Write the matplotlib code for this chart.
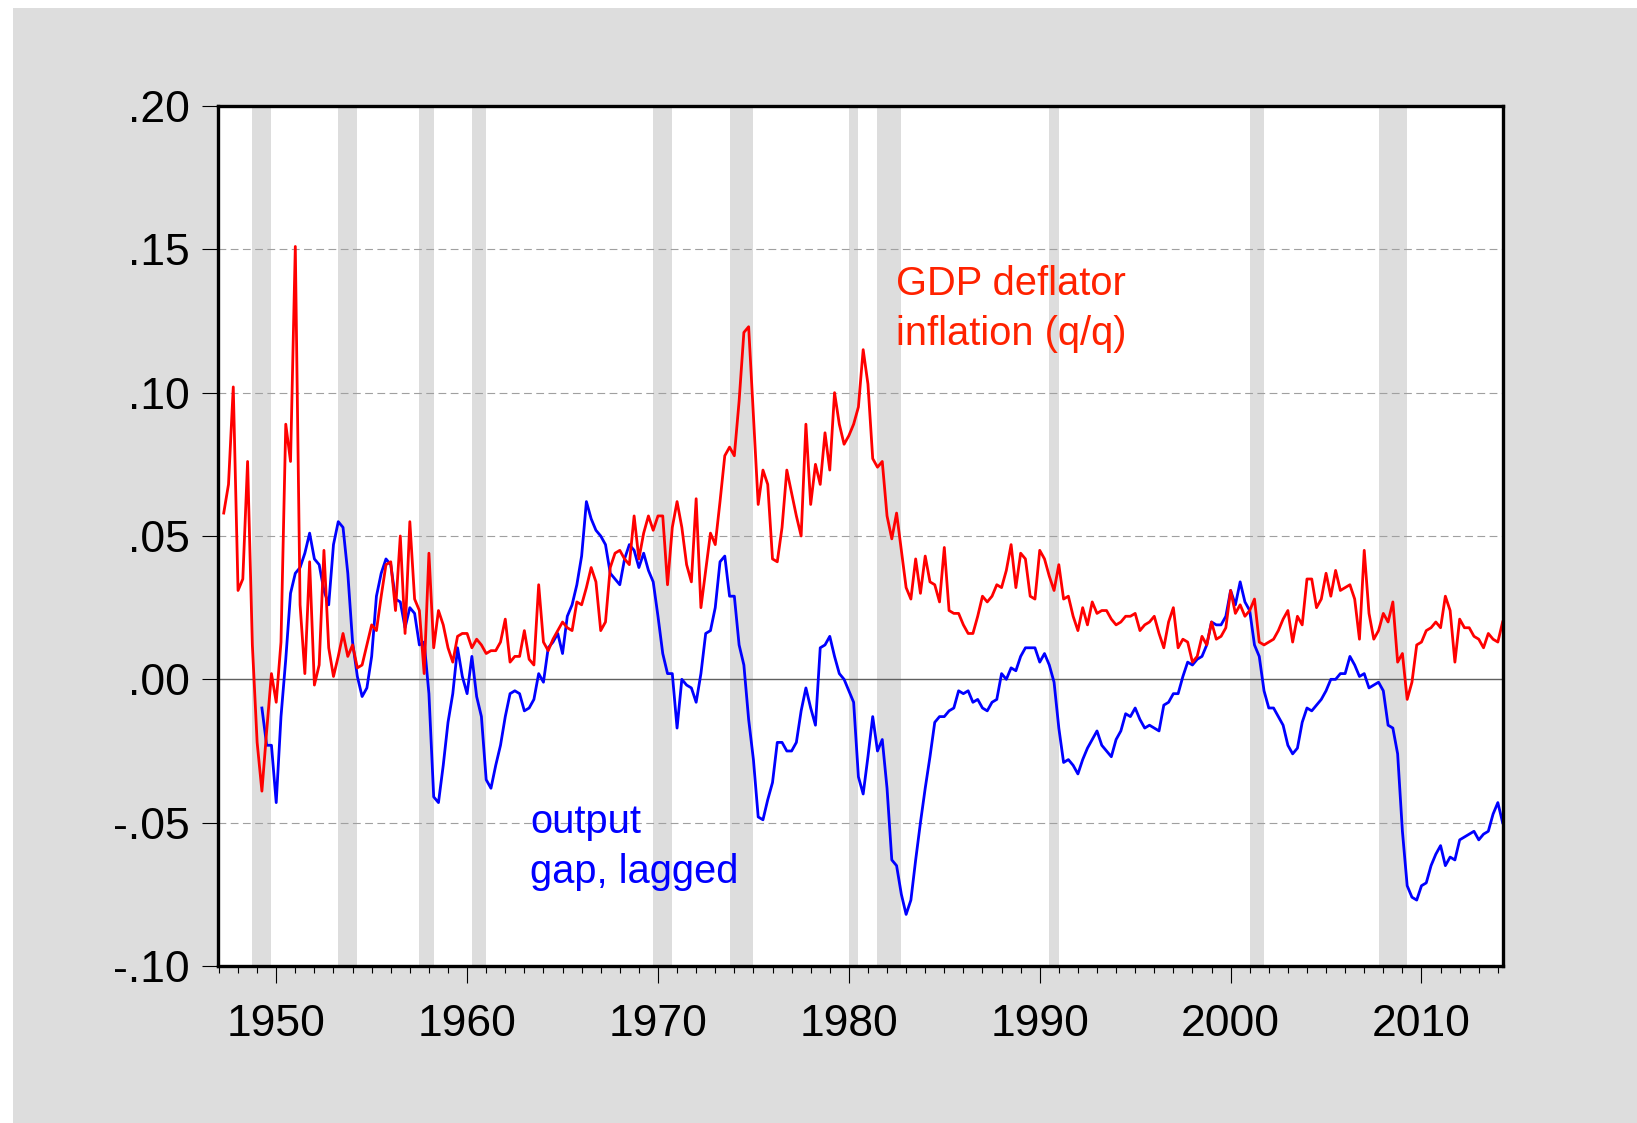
import numpy as np
import matplotlib
matplotlib.use("Agg")
import matplotlib.pyplot as plt
from matplotlib.patches import Rectangle

plt.rcParams['font.family'] = ['Liberation Sans', 'DejaVu Sans']

# ---------------- data ----------------
red_start = 1947.25   # 1947Q2
blue_start = 1949.25  # 1949Q2

inflation = [
    0.058, 0.068, 0.102, 0.031, 0.035, 0.076, 0.012, -0.022, -0.039, -0.018,
    0.002, -0.008, 0.013, 0.089, 0.076, 0.151, 0.026, 0.002, 0.041, -0.002,
    0.005, 0.045, 0.011, 0.001, 0.008, 0.016, 0.008, 0.012, 0.004, 0.005,
    0.012, 0.019, 0.017, 0.029, 0.040, 0.041, 0.024, 0.050, 0.016, 0.055,
    0.028, 0.024, 0.002, 0.044, 0.011, 0.024, 0.019, 0.011, 0.006, 0.015,
    0.016, 0.016, 0.011, 0.014, 0.012, 0.009, 0.010, 0.010, 0.013, 0.021,
    0.006, 0.008, 0.008, 0.017, 0.007, 0.005, 0.033, 0.013, 0.010, 0.014,
    0.017, 0.020, 0.018, 0.017, 0.027, 0.026, 0.032, 0.039, 0.034, 0.017,
    0.020, 0.039, 0.044, 0.045, 0.042, 0.040, 0.057, 0.042, 0.051, 0.057,
    0.052, 0.057, 0.057, 0.033, 0.053, 0.062, 0.053, 0.040, 0.034, 0.063,
    0.025, 0.038, 0.051, 0.047, 0.062, 0.078, 0.081, 0.078, 0.097, 0.121,
    0.123, 0.092, 0.061, 0.073, 0.068, 0.042, 0.041, 0.053, 0.073, 0.065,
    0.057, 0.050, 0.089, 0.061, 0.075, 0.068, 0.086, 0.073, 0.100, 0.089,
    0.082, 0.085, 0.089, 0.095, 0.115, 0.103, 0.077, 0.074, 0.076, 0.057,
    0.049, 0.058, 0.045, 0.032, 0.028, 0.042, 0.030, 0.043, 0.034, 0.033,
    0.027, 0.046, 0.024, 0.023, 0.023, 0.019, 0.016, 0.016, 0.022, 0.029,
    0.027, 0.029, 0.033, 0.032, 0.038, 0.047, 0.032, 0.044, 0.042, 0.029,
    0.028, 0.045, 0.042, 0.036, 0.031, 0.040, 0.028, 0.029, 0.022, 0.017,
    0.025, 0.019, 0.027, 0.023, 0.024, 0.024, 0.021, 0.019, 0.020, 0.022,
    0.022, 0.023, 0.017, 0.019, 0.020, 0.022, 0.016, 0.011, 0.020, 0.025,
    0.011, 0.014, 0.013, 0.006, 0.008, 0.015, 0.012, 0.020, 0.014, 0.015,
    0.018, 0.031, 0.023, 0.026, 0.022, 0.024, 0.028, 0.013, 0.012, 0.013,
    0.014, 0.017, 0.021, 0.024, 0.013, 0.022, 0.019, 0.035, 0.035, 0.025,
    0.028, 0.037, 0.029, 0.038, 0.031, 0.032, 0.033, 0.028, 0.014, 0.045,
    0.023, 0.014, 0.017, 0.023, 0.020, 0.027, 0.006, 0.009, -0.007, -0.001,
    0.012, 0.013, 0.017, 0.018, 0.020, 0.018, 0.029, 0.024, 0.006, 0.021,
    0.018, 0.018, 0.015, 0.014, 0.011, 0.016, 0.014, 0.013, 0.020,
]

output_gap = [
    -0.010, -0.023, -0.023, -0.043, -0.013, 0.007, 0.030, 0.037, 0.039, 0.044,
    0.051, 0.042, 0.040, 0.031, 0.026, 0.047, 0.055, 0.053, 0.037, 0.013,
    0.001, -0.006, -0.003, 0.008, 0.029, 0.037, 0.042, 0.040, 0.028, 0.027,
    0.018, 0.025, 0.023, 0.012, 0.013, -0.005, -0.041, -0.043, -0.030, -0.015,
    -0.005, 0.011, 0.001, -0.005, 0.008, -0.006, -0.013, -0.035, -0.038, -0.030,
    -0.023, -0.013, -0.005, -0.004, -0.005, -0.011, -0.010, -0.007, 0.002, -0.001,
    0.011, 0.013, 0.016, 0.009, 0.022, 0.026, 0.033, 0.043, 0.062, 0.056,
    0.052, 0.050, 0.047, 0.037, 0.035, 0.033, 0.042, 0.047, 0.045, 0.039,
    0.044, 0.038, 0.034, 0.022, 0.009, 0.002, 0.002, -0.017, 0.000, -0.002,
    -0.003, -0.008, 0.002, 0.016, 0.017, 0.025, 0.041, 0.043, 0.029, 0.029,
    0.012, 0.005, -0.014, -0.028, -0.048, -0.049, -0.042, -0.036, -0.022, -0.022,
    -0.025, -0.025, -0.022, -0.011, -0.003, -0.010, -0.016, 0.011, 0.012, 0.015,
    0.008, 0.002, 0.000, -0.004, -0.008, -0.034, -0.040, -0.027, -0.013, -0.025,
    -0.021, -0.038, -0.063, -0.065, -0.075, -0.082, -0.077, -0.063, -0.050, -0.038,
    -0.027, -0.015, -0.013, -0.013, -0.011, -0.010, -0.004, -0.005, -0.004, -0.008,
    -0.007, -0.010, -0.011, -0.008, -0.007, 0.002, 0.000, 0.004, 0.003, 0.008,
    0.011, 0.011, 0.011, 0.006, 0.009, 0.005, -0.001, -0.017, -0.029, -0.028,
    -0.030, -0.033, -0.028, -0.024, -0.021, -0.018, -0.023, -0.025, -0.027, -0.021,
    -0.018, -0.012, -0.013, -0.010, -0.014, -0.017, -0.016, -0.017, -0.018, -0.009,
    -0.008, -0.005, -0.005, 0.001, 0.006, 0.005, 0.007, 0.008, 0.012, 0.020,
    0.019, 0.019, 0.022, 0.031, 0.026, 0.034, 0.027, 0.024, 0.012, 0.008,
    -0.004, -0.010, -0.010, -0.013, -0.016, -0.023, -0.026, -0.024, -0.015, -0.010,
    -0.011, -0.009, -0.007, -0.004, 0.000, 0.000, 0.002, 0.002, 0.008, 0.005,
    0.001, 0.002, -0.003, -0.002, -0.001, -0.004, -0.016, -0.017, -0.026, -0.053,
    -0.072, -0.076, -0.077, -0.072, -0.071, -0.065, -0.061, -0.058, -0.065, -0.062,
    -0.063, -0.056, -0.055, -0.054, -0.053, -0.056, -0.054, -0.053, -0.047, -0.043,
    -0.050,
]

# NBER recessions (peak quarter, trough quarter)
recession_start = [1948.75, 1953.25, 1957.50, 1960.25, 1969.75, 1973.75,
                   1980.00, 1981.50, 1990.50, 2001.00, 2007.75]
recession_end = [1949.75, 1954.25, 1958.25, 1961.00, 1970.75, 1975.00,
                 1980.50, 1982.75, 1991.00, 2001.75, 2009.25]

ytick_vals = [-0.10, -0.05, 0.00, 0.05, 0.10, 0.15, 0.20]
ytick_labels = ['-.10', '-.05', '.00', '.05', '.10', '.15', '.20']
xtick_years = [1950, 1960, 1970, 1980, 1990, 2000, 2010]

t_red = red_start + 0.25 * np.arange(len(inflation))
t_blue = blue_start + 0.25 * np.arange(len(output_gap))

# ---------------- figure ----------------
W, H = 1637, 1123
fig = plt.figure(figsize=(W / 100, H / 100), dpi=100)
fig.patch.set_facecolor('white')
fig.patches.append(Rectangle((13 / W, 0), 1, 1 - 8 / H, transform=fig.transFigure,
                             facecolor='#DDDDDD', edgecolor='none', zorder=-10))

left, right, top, bottom = 218, 1503, 106, 966
ax = fig.add_axes([left / W, 1 - bottom / H, (right - left) / W, (bottom - top) / H])
ax.set_facecolor('white')

for a, b in zip(recession_start, recession_end):
    ax.axvspan(a, b, color='#DDDDDD', lw=0, zorder=0)

for y in [-0.05, 0.05, 0.10, 0.15]:
    ax.axhline(y, color='#A0A0A0', lw=0.8, ls=(0, (7, 4)), zorder=1)
ax.axhline(0.0, color='#606060', lw=1.0, zorder=1)

ax.plot(t_blue, output_gap, color='#0000FF', lw=2.0, zorder=3)
ax.plot(t_red, inflation, color='#FF0000', lw=2.0, zorder=4)

ax.set_xlim(1946.95, 2014.27)
ax.set_ylim(-0.10, 0.20)

ax.set_yticks(ytick_vals)
ax.set_yticklabels(ytick_labels)
ax.set_xticks(xtick_years)
ax.set_xticklabels([str(y) for y in xtick_years])
ax.set_xticks(np.arange(1947, 2015), minor=True)

ax.tick_params(axis='y', which='major', direction='out', length=11.5, width=0.8,
               labelsize=32, pad=9)
ax.tick_params(axis='x', which='major', direction='out', length=12.2, width=0.8,
               labelsize=32, pad=15)
ax.tick_params(axis='x', which='minor', direction='out', length=5, width=0.8)
ax.tick_params(axis='y', which='minor', left=False)

for s in ax.spines.values():
    s.set_linewidth(2.4)
    s.set_color('black')
    s.set_zorder(5)

ax.text(0.528, 0.780, 'GDP deflator', transform=ax.transAxes, color='#FF2200',
        fontsize=28.7, va='baseline', ha='left', zorder=6)
ax.text(0.528, 0.722, 'inflation (q/q)', transform=ax.transAxes, color='#FF2200',
        fontsize=28.7, va='baseline', ha='left', zorder=6)
ax.text(0.243, 0.155, 'output', transform=ax.transAxes, color='#0000FF',
        fontsize=28.7, va='baseline', ha='left', zorder=6)
ax.text(0.243, 0.0965, 'gap, lagged', transform=ax.transAxes, color='#0000FF',
        fontsize=28.7, va='baseline', ha='left', zorder=6)

fig.savefig('out.png', dpi=100)
